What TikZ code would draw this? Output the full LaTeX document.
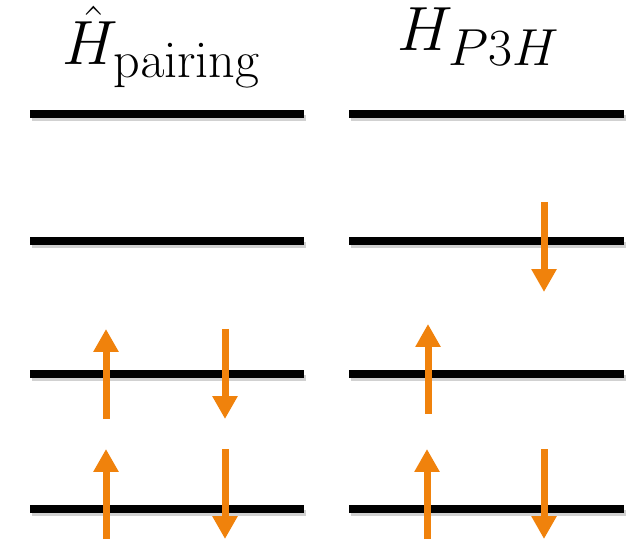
\documentclass[tikz,border=0pt]{standalone}
\usetikzlibrary{arrows.meta}
\definecolor{spinorange}{RGB}{240,130,12}

\begin{document}
\begin{tikzpicture}[
    x=0.02cm, y=-0.02cm,
    level/.style={line width=0.16cm, black},
    shade/.style={line width=0.12cm, black!18},
    spin/.style={line width=0.14cm, spinorange,
                 -{Triangle[length=0.46cm, width=0.48cm]}},
    title/.style={anchor=base, inner sep=0pt, font=\Huge, scale=1.43}
  ]
  \useasboundingbox (0,0) rectangle (635,543);

  % headings
  \node[title] (pair) at (162,65) {$\hat{H}_{\mathrm{pairing}}$};
  \node[title] (pthh) at (479,51) {$H_{P3H}$};

  % single-particle levels
  \foreach \ly in {114,241,374,509} {
    \draw[shade] (32,\ly+4) -- (306,\ly+4);
    \draw[shade] (351,\ly+4) -- (626,\ly+4);
    \draw[level] (30,\ly) -- (304,\ly);
    \draw[level] (349,\ly) -- (624,\ly);
  }

  % pairing: two pairs
  \draw[spin] (106,419) -- (106,329);
  \draw[spin] (225,329) -- (225,419);
  \draw[spin] (106,539) -- (106,449);
  \draw[spin] (225,449) -- (225,539);

  % P3H: three particles
  \draw[spin] (544,202) -- (544,292);
  \draw[spin] (428,414) -- (428,324);
  \draw[spin] (427,539) -- (427,449);
  \draw[spin] (544,449) -- (544,539);
\end{tikzpicture}
\end{document}
